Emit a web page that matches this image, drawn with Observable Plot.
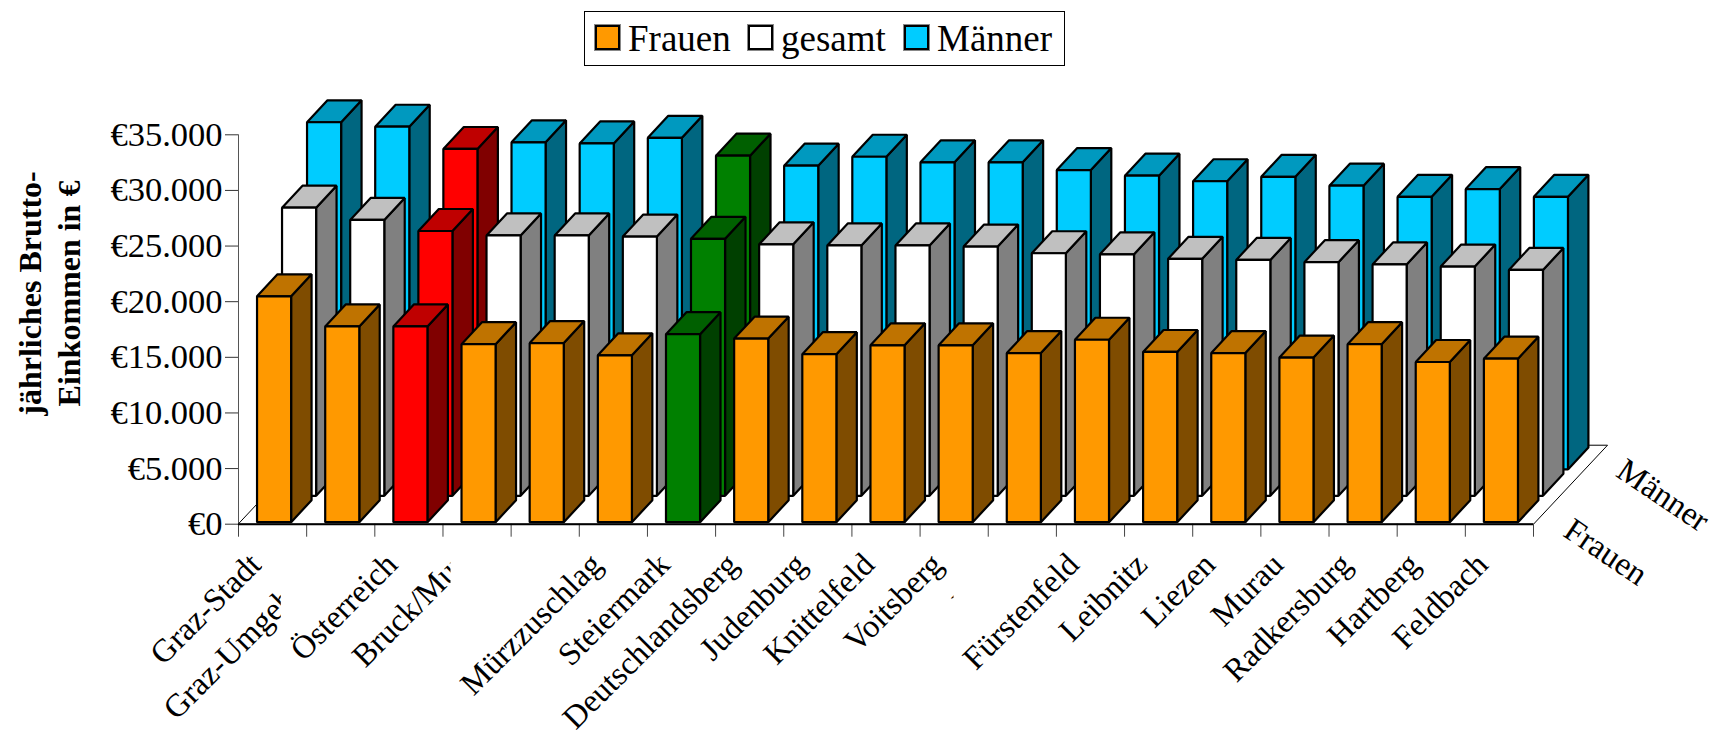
<!DOCTYPE html>
<html lang="de">
<head>
<meta charset="utf-8">
<script src="https://cdn.jsdelivr.net/npm/d3@7"></script>
<script src="https://cdn.jsdelivr.net/npm/@observablehq/plot@0.6"></script>
<style>
  html, body { margin: 0; padding: 0; background: #fff; }
  #legend {
    box-sizing: border-box; position: relative; margin: 11px 0 0 584px; width: 481px; height: 55px;
    border: 1px solid #000; font-family: "Liberation Serif", serif; font-size: 37px; line-height: 53px;
  }
  #legend span { position: absolute; top: 0; white-space: nowrap; }
  #legend i {
    position: absolute; top: 13px; width: 25px; height: 25px; box-sizing: border-box;
    border: 2px solid #000; outline: 1px solid #888;
  }
  svg { display: block; }
</style>
</head>
<body>
<div id="legend"></div>
<div id="chart"></div>
<script>
const categories = ["Graz-Stadt","Graz-Umgebung","Österreich","Bruck/Mur","Leoben","Mürzzuschlag","Steiermark","Deutschlandsberg","Judenburg","Knittelfeld","Voitsberg","Weiz","Fürstenfeld","Leibnitz","Liezen","Murau","Radkersburg","Hartberg","Feldbach"];
const frauen  = [20300,17600,17600,16000,16100,15000,16900,16500,15100,15900,15900,15200,16400,15300,15200,14800,16000,14400,14700];
const gesamt  = [25900,24800,23800,23400,23400,23300,23100,22600,22500,22500,22400,21800,21700,21300,21200,21000,20800,20600,20300];
const maenner = [31200,30800,28800,29400,29300,29800,28200,27300,28100,27600,27600,26900,26400,25900,26300,25500,24500,25200,24500];
const seriesNames = ["Frauen","gesamt","Männer"];
const yTicks = [0,5000,10000,15000,20000,25000,30000,35000];
const yTitle = "jährliches Brutto-\nEinkommen in €";

// Colours: front, top, side
const palette = {
  Frauen: ["#ff9900","#bf7300","#7f4c00"],
  gesamt: ["#ffffff","#c0c0c0","#808080"],
  "Männer": ["#00ccff","#0099bf","#006680"],
  red: ["#ff0000","#bf0000","#800000"],
  green: ["#008000","#006000","#004000"]
};
const highlight = {"Österreich": "red", "Steiermark": "green"};
// Labels that the original chart cuts off, with the horizontal limit in category units
const labelClip = {"Graz-Stadt": 0.35, "Graz-Umgebung": 0.62, "Bruck/Mur": 3.11, "Weiz": 10.49};
// The original chart shows no label at all for these categories
const hiddenLabels = ["Leoben"];

// Projection of the pseudo-3D chart, in data units
const barLeft = 0.272, barWidth = 0.5, depthX = 0.3, depthY = 1977;
const rowX = 0.3668, rowY = 2373, baseY = 180;
const floorX = 1.086, floorY = 7100;

const polys = [];
const poly = (id, color, pts) => pts.forEach(([x, y]) => polys.push({id, color, x, y}));
[[2, maenner], [1, gesamt], [0, frauen]].forEach(([row, values]) => {
  values.forEach((v, i) => {
    const x0 = i + barLeft + row * rowX, x1 = x0 + barWidth;
    const y0 = baseY + row * rowY, y1 = y0 + v;
    const c = palette[highlight[categories[i]] || seriesNames[row]];
    poly(`${row}-${i}-side`, c[2], [[x1,y0],[x1+depthX,y0+depthY],[x1+depthX,y1+depthY],[x1,y1]]);
    poly(`${row}-${i}-top`, c[1], [[x0,y1],[x1,y1],[x1+depthX,y1+depthY],[x0+depthX,y1+depthY]]);
    poly(`${row}-${i}-front`, c[0], [[x0,y0],[x1,y0],[x1,y1],[x0,y1]]);
  });
});
const n = categories.length;
const floor = [[0,0],[n,0],[n+floorX,floorY],[floorX,floorY]].map(([x,y]) => ({x,y}));
const serif = "Liberation Serif";

const plot = Plot.plot({
  width: 1713, height: 666,
  marginLeft: 238, marginRight: 180, marginTop: 68.3, marginBottom: 208.3,
  style: {fontFamily: serif, background: "#fff", overflow: "visible"},
  x: {type: "linear", domain: [0, n], axis: null},
  y: {domain: [0, 35000]},
  color: {type: "identity"},
  marks: [
    Plot.line(floor, {x: "x", y: "y", fill: "#fff", stroke: "#000", strokeWidth: 1, curve: "linear-closed"}),
    Plot.axisY({ticks: yTicks, tickSize: 13, tickPadding: 3, fontSize: 34.5, label: null, stroke: "#333",
      tickFormat: d => "€" + d3.format(",")(d).replace(/,/g, ".")}),
    Plot.ruleX([0], {y1: 0, y2: 35000, stroke: "#555", strokeWidth: 1}),
    Plot.ruleX(d3.range(n + 1), {y1: 0, y2: -1170, stroke: "#444", strokeWidth: 1}),
    Plot.line(polys, {x: "x", y: "y", z: "id", fill: "color", stroke: "#000", strokeWidth: 2.2, curve: "linear-closed", strokeLinejoin: "miter"}),
    Plot.ruleY([0], {x1: 0, x2: n, stroke: "#000", strokeWidth: 2}),
    Plot.text(categories, {filter: d => !hiddenLabels.includes(d), x: (d, i) => i + 0.25, y: -3150, text: d => d, rotate: -45, textAnchor: "end",
      lineAnchor: "middle", fontSize: 32.5, fill: "#000"}),
    Plot.text([seriesNames[0], seriesNames[2]], {x: (d, i) => n + 1.06 + i * 0.84, y: (d, i) => -2500 + i * 5096, text: d => d,
      rotate: 34, fontSize: 33, fill: "#000"}),
    Plot.text([yTitle], {frameAnchor: "left", dx: -190.5, dy: -36, rotate: -90, textAnchor: "middle", fontSize: 32, fontWeight: "bold", lineHeight: 1.22, fill: "#000"})
  ]
});

// Cut the labels off where the original chart does
const svg = d3.select(plot);
const xs = plot.scale("x");
svg.selectAll("text").each(function () {
  const limit = labelClip[this.textContent];
  if (limit === undefined) return;
  const id = "clip-" + categories.indexOf(this.textContent);
  svg.append("clipPath").attr("id", id).append("rect")
    .attr("x", -10000).attr("y", -10000).attr("width", 10000 + xs.apply(limit)).attr("height", 20000);
  const wrap = d3.select(this.parentNode).insert("g", () => this).attr("clip-path", `url(#${id})`);
  wrap.node().appendChild(this);
});
document.getElementById("chart").appendChild(plot);

// Legend
const legendPos = [[10, 43], [163, 196], [319, 352]];
const legend = d3.select("#legend");
seriesNames.forEach((name, i) => {
  legend.append("i").style("left", legendPos[i][0] + "px").style("background", palette[name][0]);
  legend.append("span").style("left", legendPos[i][1] + "px").text(name);
});
</script>
</body>
</html>
